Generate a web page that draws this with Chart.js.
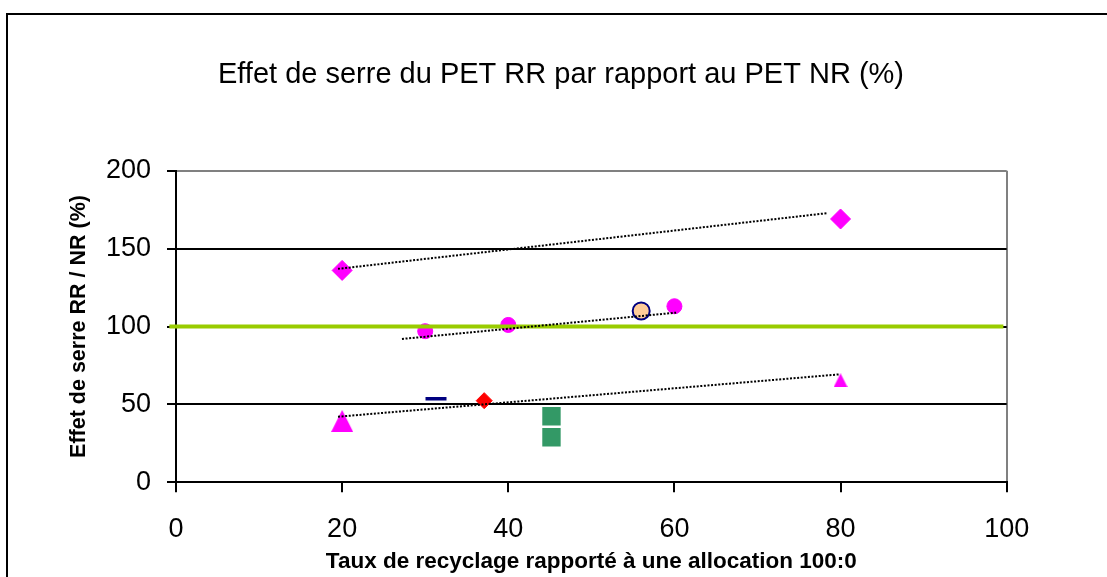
<!DOCTYPE html>
<html>
<head>
<meta charset="utf-8">
<script src="https://cdn.jsdelivr.net/npm/chart.js@4/dist/chart.umd.min.js"></script>
<style>
  html, body { margin: 0; padding: 0; background: #fff; }
  #wrap { width: 1107px; height: 577px; }
</style>
</head>
<body>
<div id="wrap"><canvas id="c" width="1107" height="577"></canvas></div>
<script>
// ---- data ----
const chartTitle = "Effet de serre du PET RR par rapport au PET NR (%)";
const xTitle = "Taux de recyclage rapporté à une allocation 100:0";
const yTitle = "Effet de serre RR / NR (%)";
const xTicks = [0, 20, 40, 60, 80, 100];
const yTicks = [0, 50, 100, 150, 200];

const pinkDiamondX = [20, 80];
const pinkDiamondY = [136, 169];
const pinkCircleX = [30, 40, 60];
const pinkCircleY = [97, 101, 113];
const orangeCircleX = [56];
const orangeCircleY = [110];
const navyDashX = [31.3];
const navyDashY = [53.6];
const redDiamondX = [37.1];
const redDiamondY = [52.4];
const greenSquareX = [45.2, 45.2];
const greenSquareY = [42.4, 28.9];
const pinkTriangleX = [20, 80];
const pinkTriangleY = [39.4, 65.5];

const trendUpperX = [19.5, 78.3];
const trendUpperY = [137.0, 172.7];
const trendMiddleX = [27.2, 60.2];
const trendMiddleY = [92.0, 108.9];
const trendLowerX = [19.5, 79.9];
const trendLowerY = [42.1, 69.3];

const refLineX = [-0.8, 99.6];
const refLineY = [100, 100];

// ---- helpers ----
const pts = (xs, ys) => xs.map((x, i) => ({ x: x, y: ys[i] }));

function triangleCanvas(w, h, color) {
  const cv = document.createElement('canvas');
  cv.width = w; cv.height = h;
  const g = cv.getContext('2d');
  g.fillStyle = color;
  g.beginPath();
  g.moveTo(w / 2, 0);
  g.lineTo(w, h);
  g.lineTo(0, h);
  g.closePath();
  g.fill();
  return cv;
}
const triBig = triangleCanvas(22, 22, '#FF00FF');
const triSmall = triangleCanvas(14, 14, '#FF00FF');

const FONT = "'Liberation Sans', Arial, Helvetica, sans-serif";

const frame = {
  id: 'frame',
  afterLayout(chart) {
    const t = chart.titleBlock;
    if (t) { t.left = 115; t.right = 1007; }
  },
  beforeDraw(chart) {
    const ctx = chart.ctx;
    ctx.save();
    ctx.fillStyle = '#fff';
    ctx.fillRect(0, 0, chart.width, chart.height);
    ctx.strokeStyle = '#000';
    ctx.lineWidth = 2;
    ctx.strokeRect(7, 14, 1300, 800);
    ctx.restore();
  }
};

const trendStyle = {
  type: 'line', showLine: true, pointRadius: 0, borderColor: '#000',
  borderWidth: 2, borderDash: [2, 1.6], fill: false, tension: 0
};

new Chart(document.getElementById('c'), {
  type: 'scatter',
  data: {
    datasets: [
      Object.assign({ label: 'tendance 1', data: pts(trendUpperX, trendUpperY), order: 1 }, trendStyle),
      Object.assign({ label: 'tendance 2', data: pts(trendMiddleX, trendMiddleY), order: 1 }, trendStyle),
      Object.assign({ label: 'tendance 3', data: pts(trendLowerX, trendLowerY), order: 1 }, trendStyle),
      { label: 'référence', type: 'line', data: pts(refLineX, refLineY), showLine: true, pointRadius: 0,
        borderColor: '#99CC00', borderWidth: 4, clip: false, order: 2 },
      { label: 'A', data: pts(pinkDiamondX, pinkDiamondY), pointStyle: 'rectRot', pointRadius: 10,
        backgroundColor: '#FF00FF', borderColor: '#FF00FF', borderWidth: 1, order: 3 },
      { label: 'B', data: pts(pinkCircleX, pinkCircleY), pointStyle: 'circle', pointRadius: 7.5,
        backgroundColor: '#FF00FF', borderColor: '#FF00FF', borderWidth: 1, order: 3 },
      { label: 'C', data: pts(orangeCircleX, orangeCircleY), pointStyle: 'circle', pointRadius: 8.5,
        backgroundColor: '#FFCC99', borderColor: '#000080', borderWidth: 2, order: 3 },
      { label: 'D', data: pts(navyDashX, navyDashY), pointStyle: 'line', pointRadius: 10.5,
        backgroundColor: '#000080', borderColor: '#000080', borderWidth: 3.5, order: 3 },
      { label: 'E', data: pts(redDiamondX, redDiamondY), pointStyle: 'rectRot', pointRadius: 8,
        backgroundColor: '#FF0000', borderColor: '#FF0000', borderWidth: 1, order: 3 },
      { label: 'F', data: pts(greenSquareX, greenSquareY), pointStyle: 'rect', pointRadius: 13,
        backgroundColor: '#339966', borderColor: '#339966', borderWidth: 0, order: 3 },
      { label: 'G', data: pts(pinkTriangleX, pinkTriangleY), pointStyle: [triBig, triSmall], pointRadius: 11,
        backgroundColor: '#FF00FF', borderColor: '#FF00FF', borderWidth: 0, order: 3 }
    ]
  },
  options: {
    responsive: false,
    animation: false,
    devicePixelRatio: 1,
    layout: { padding: { left: 0, right: 100.3, top: 0, bottom: 0 } },
    plugins: {
      legend: { display: false },
      tooltip: { enabled: false },
      title: {
        display: true, text: chartTitle, color: '#000',
        font: { family: FONT, size: 29, weight: 'normal' },
        padding: { top: 57.5, bottom: 78.4 }
      }
    },
    scales: {
      x: {
        type: 'linear', min: 0, max: 100,
        afterBuildTicks: s => { s.ticks = xTicks.map(v => ({ value: v })); },
        afterFit: s => { s.height = 94.7; },
        border: { display: true, color: '#000', width: 2 },
        grid: {
          drawOnChartArea: true, drawTicks: true, tickLength: 10, tickWidth: 2, tickColor: '#000',
          lineWidth: 2,
          color: c => (c.tick && c.tick.value === 100) ? '#808080' : 'rgba(0,0,0,0)'
        },
        ticks: { color: '#000', padding: 21, font: { family: FONT, size: 27 } },
        title: { display: true, text: xTitle, color: '#000',
          font: { family: FONT, size: 22.5, weight: 'bold' }, padding: { top: 0, bottom: 1.5 } }
      },
      y: {
        type: 'linear', min: 0, max: 200,
        afterBuildTicks: s => { s.ticks = yTicks.map(v => ({ value: v })); },
        afterFit: s => { s.width = 176; },
        border: { display: true, color: '#000', width: 2 },
        grid: {
          drawTicks: true, tickLength: 9, tickWidth: 2, tickColor: '#000', lineWidth: 2,
          color: c => (c.tick && c.tick.value === 200) ? '#808080' : '#000'
        },
        ticks: { color: '#000', padding: 16, font: { family: FONT, size: 27 } },
        title: { display: true, text: yTitle, color: '#000',
          font: { family: FONT, size: 21.5, weight: 'bold' }, padding: { top: 66, bottom: 0 } }
      }
    }
  },
  plugins: [frame]
});
</script>
</body>
</html>
